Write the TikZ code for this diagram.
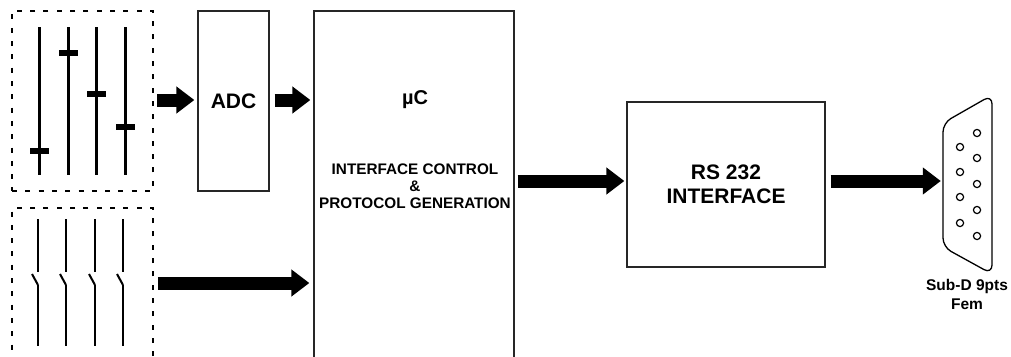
\documentclass[tikz,border=0pt]{standalone}
\usepackage{fontspec}
\setmainfont{Liberation Sans}
\usetikzlibrary{arrows.meta}
\begin{document}
\begin{tikzpicture}[x=1pt,y=-1pt,
  dashbox/.style={draw, line width=2.6pt, dash pattern=on 5pt off 8.3pt, minimum width=141pt, inner sep=0pt},
  blockbox/.style={draw=black!85, line width=1.3pt, inner sep=0pt, align=center, font=\bfseries},
  blockarrow/.style={line width=13pt, -{Triangle[length=18pt,width=26pt]}},
  slider/.style={line width=3pt},
  knob/.style={fill=black},
  switchline/.style={line width=2pt},
  pin/.style={draw, line width=1.2pt},
  lbl/.style={font=\bfseries, align=center}
]
\useasboundingbox (0,0) rectangle (1011,356);
\clip (0,0) rectangle (1011,356);
\fill[white] (0,0) rectangle (1011,356);

% dashed groups
\node[dashbox, minimum height=180pt] (box1) at (82.5,101) {};
\node[dashbox, minimum height=180pt] (box2) at (82.5,298) {};

% sliders
\foreach \x/\k in {39/151, 68/53, 96/94, 125/127}{
  \draw[slider] (\x,27) -- (\x,175);
  \fill[knob] (\x-9.5,\k-3) rectangle (\x+9.5,\k+3);
}
% switches
\foreach \x in {38, 66, 95, 123}{
  \draw[switchline] (\x,219) -- (\x,272);
  \draw[switchline] (\x-6,274) -- (\x,285);
  \draw[switchline] (\x,285) -- (\x,346);
}

% blocks
\node[blockbox, minimum width=71pt, minimum height=180pt, font=\bfseries\fontsize{21}{24}\selectfont] (adc) at (233.5,101) {ADC};
\node[blockbox, minimum width=200pt, minimum height=380pt] (uc) at (414,201) {};
\node[lbl, font=\bfseries\fontsize{20}{24}\selectfont] (uclbl) at (415,100) {µC};
\node[lbl, font=\bfseries\fontsize{15.3}{17}\selectfont] (uctext) at (415,186) {INTERFACE CONTROL\\\&\\PROTOCOL GENERATION};
\node[blockbox, minimum width=198pt, minimum height=165pt, font=\bfseries\fontsize{21}{24}\selectfont] (rs) at (726,184.5) {RS 232\\INTERFACE};

% Sub-D connector
\node[minimum width=49pt, minimum height=175pt, inner sep=0pt] (subd) at (967.5,184.5) {};
\draw[line width=1.3pt, rounded corners=9pt] (943,123) -- (992,95) -- (992,274) -- (943,247) -- cycle;
\foreach \y in {147,172,197,223}{ \draw[pin] (960,\y) circle (3.6pt); }
\foreach \y in {133,158,184,210,236}{ \draw[pin] (977,\y) circle (3.6pt); }
\node[lbl, font=\bfseries\fontsize{15.5}{19}\selectfont] (subdlbl) at (967,294) {Sub-D 9pts\\Fem};

% arrows
\coordinate (ya) at (0,100);
\coordinate (yb) at (0,283);
\coordinate (yc) at (0,181);
\draw[blockarrow, shorten <=3pt, shorten >=3pt] (box1.east |- ya) -- (adc.west |- ya);
\draw[blockarrow, shorten <=5pt, shorten >=3pt] (adc.east |- ya) -- (uc.west |- ya);
\draw[blockarrow, shorten <=4pt, shorten >=4pt] (box2.east |- yb) -- (uc.west |- yb);
\draw[blockarrow, shorten <=3pt, shorten >=2pt] (uc.east |- yc) -- (rs.west |- yc);
\draw[blockarrow, shorten <=5pt, shorten >=2pt] (rs.east |- yc) -- (subd.west |- yc);
\end{tikzpicture}
\end{document}
